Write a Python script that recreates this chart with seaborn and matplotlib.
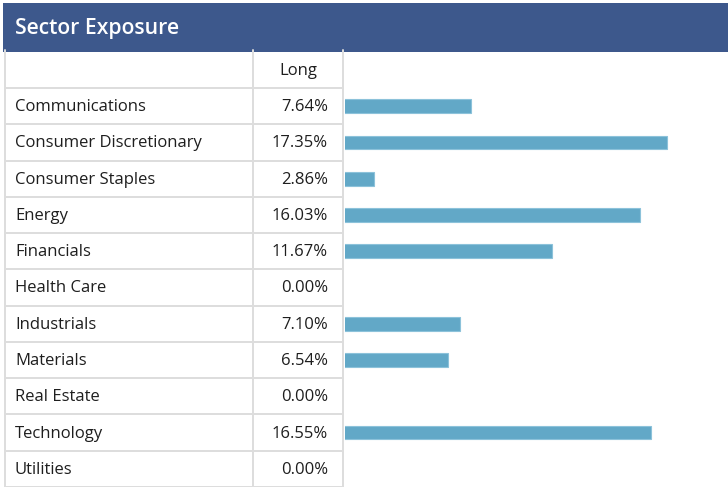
import matplotlib
matplotlib.use('Agg')
import numpy as np
from matplotlib import pyplot as plt
import seaborn as sns

# Data
sectors = ['Communications', 'Consumer Discretionary', 'Consumer Staples', 'Energy',
           'Financials', 'Health Care', 'Industrials', 'Materials', 'Real Estate',
           'Technology', 'Utilities']
long_pct = [7.64, 17.35, 2.86, 16.03, 11.67, 0.00, 7.10, 6.54, 0.00, 16.55, 0.00]
title = 'Sector Exposure'
column_name = 'Long'

sns.set_theme(style='white')
plt.rcParams['font.family'] = ['Open Sans', 'DejaVu Sans']

W, H = 728, 487
fig = plt.figure(figsize=(W / 100, H / 100), dpi=100)

# full-figure axes in pixel coordinates for the table
tab = fig.add_axes([0, 0, 1, 1])
tab.set_xlim(0, W)
tab.set_ylim(H, 0)
tab.axis('off')

header_top, header_bot = 3, 52
row_top = 88
row_h = (H - row_top) / len(sectors)
grid_col = '#dddddd'
txt_col = '#1e1e1e'

tab.add_patch(plt.Rectangle((3, header_top), W - 3, header_bot - header_top,
                            color='#3d588c', lw=0))
tab.text(15, (header_top + header_bot) / 2 + 1, title, color='white',
         fontsize=15.2, va='center', ha='left', fontweight='semibold')

# grid lines
for x in [5, 253, 343]:
    tab.plot([x, x], [header_bot - 2, H], color=grid_col, lw=1.4)
for i in range(len(sectors) + 1):
    y = row_top + i * row_h
    tab.plot([5, 343], [y, y], color=grid_col, lw=1.4)

tab.text(298, (header_bot + row_top) / 2 + 1, column_name, fontsize=12,
         ha='center', va='center', color=txt_col)
for i, (name, v) in enumerate(zip(sectors, long_pct)):
    yc = row_top + (i + 0.5) * row_h + 1
    tab.text(15, yc, name, fontsize=12, ha='left', va='center', color=txt_col)
    tab.text(328, yc, '{:.2f}%'.format(v), fontsize=12, ha='right',
             va='center', color=txt_col)

# bar axes to the right of the table
ax = fig.add_axes([345 / W, 0, (W - 345) / W, (H - row_top) / H])
sns.barplot(x=long_pct, y=sectors, orient='h', ax=ax, color='#62a8c7',
            saturation=1, width=0.38, edgecolor='#8cc2da', linewidth=0.8)
ax.set_xlim(1.43, 20.37)
ax.set_ylim(len(sectors) - 0.5, -0.5)
ax.axis('off')

fig.savefig('out.png', dpi=100)
